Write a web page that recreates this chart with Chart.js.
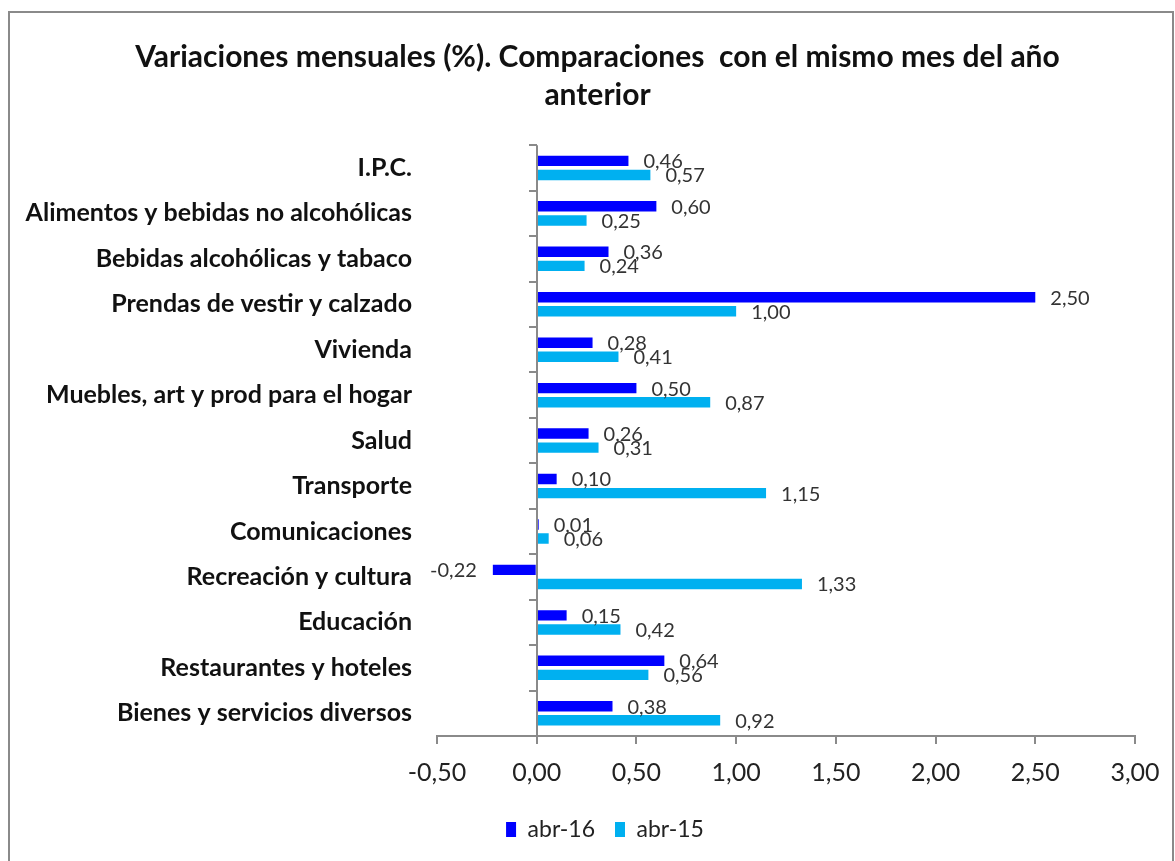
<!DOCTYPE html>
<html>
<head>
<meta charset="utf-8">
<script src="https://cdn.jsdelivr.net/npm/chart.js@4"></script>
<style>
  html, body { margin: 0; padding: 0; background: #fff; overflow: hidden; }
  #frame { position: absolute; left: 8px; top: 11px; width: 1162px; height: 900px; border: 2px solid #8a8a8a; }
  #wrap { position: absolute; left: 0; top: 0; width: 1175px; height: 861px; }
</style>
</head>
<body>
<div id="frame"></div>
<div id="wrap"><canvas id="chart"></canvas></div>
<script>
const categories = [
    'I.P.C.',
    'Alimentos y bebidas no alcohólicas',
    'Bebidas alcohólicas y tabaco',
    'Prendas de vestir y calzado',
    'Vivienda',
    'Muebles, art y prod para el hogar',
    'Salud',
    'Transporte',
    'Comunicaciones',
    'Recreación y cultura',
    'Educación',
    'Restaurantes y hoteles',
    'Bienes y servicios diversos'
]
const abr16 = [0.46, 0.60, 0.36, 2.50, 0.28, 0.50, 0.26, 0.10, 0.01, -0.22, 0.15, 0.64, 0.38]
const abr15 = [0.57, 0.25, 0.24, 1.00, 0.41, 0.87, 0.31, 1.15, 0.06, 1.33, 0.42, 0.56, 0.92]
const xTicks = [-0.5, 0, 0.5, 1, 1.5, 2, 2.5, 3]

const fmt = v => v.toFixed(2).replace('.', ',')
const FONT = 'Lato, "Open Sans", sans-serif'

// value labels next to each bar end
const valueLabels = {
    id: 'valueLabels',
    afterDatasetsDraw(chart) {
        const ctx = chart.ctx
        ctx.save()
        ctx.font = '20px ' + FONT
        ctx.fillStyle = '#333'
        ctx.textBaseline = 'middle'
        chart.data.datasets.forEach((ds, di) => {
            chart.getDatasetMeta(di).data.forEach((bar, i) => {
                const v = ds.data[i]
                if (v >= 0) {
                    ctx.textAlign = 'left'
                    ctx.fillText(fmt(v), bar.x + 15, bar.y + 1)
                } else {
                    ctx.textAlign = 'right'
                    ctx.fillText(fmt(v), bar.x - 16, bar.y + 1)
                }
            })
        })
        ctx.restore()
    }
}

// vertical axis crossing at zero, with category tick marks
const zeroAxis = {
    id: 'zeroAxis',
    afterDatasetsDraw(chart) {
        const {ctx, chartArea, scales} = chart
        const x0 = Math.round(scales.x.getPixelForValue(0))
        const n = categories.length
        const step = (chartArea.bottom - chartArea.top) / n
        ctx.save()
        ctx.strokeStyle = '#8a8a8a'
        ctx.lineWidth = 2
        ctx.beginPath()
        ctx.moveTo(x0, chartArea.top)
        ctx.lineTo(x0, chartArea.bottom)
        for (let i = 0; i < n; i++) {
            const y = Math.round(chartArea.top + i * step)
            ctx.moveTo(x0 - 8, y)
            ctx.lineTo(x0, y)
        }
        ctx.stroke()
        ctx.restore()
    }
}

// nudge title and legend a bit right, like the original
const blockShift = {
    id: 'blockShift',
    afterLayout(chart) {
        if (chart.legend) chart.legend.left += 55
        if (chart.titleBlock) chart.titleBlock.left += 40
    }
}

new Chart(document.getElementById('chart'), {
    type: 'bar',
    data: {
        labels: categories,
        datasets: [
            {
                label: 'abr-16',
                data: abr16,
                backgroundColor: '#0000FF',
                borderWidth: 0,
                barPercentage: 0.74,
                categoryPercentage: 0.62
            },
            {
                label: 'abr-15',
                data: abr15,
                backgroundColor: '#00B0F0',
                borderWidth: 0,
                barPercentage: 0.74,
                categoryPercentage: 0.62
            }
        ]
    },
    options: {
        indexAxis: 'y',
        responsive: true,
        maintainAspectRatio: false,
        animation: false,
        layout: {
            padding: {left: 20, right: 40, top: 0, bottom: 10}
        },
        plugins: {
            title: {
                display: true,
                text: ['Variaciones mensuales (%). Comparaciones  con el mismo mes del año', 'anterior'],
                color: '#111',
                font: {family: FONT, size: 30, weight: 'bold', lineHeight: 1.27},
                padding: {top: 38, bottom: 31}
            },
            legend: {
                position: 'bottom',
                labels: {
                    color: '#222',
                    font: {family: FONT, size: 23},
                    boxWidth: 10,
                    boxHeight: 15,
                    padding: 20
                }
            },
            tooltip: {enabled: false}
        },
        scales: {
            x: {
                min: -0.5,
                max: 3,
                afterBuildTicks: scale => { scale.ticks = xTicks.map(v => ({value: v})) },
                afterFit: scale => { scale.height = 62 },
                border: {display: true, color: '#8a8a8a', width: 2},
                grid: {display: true, drawOnChartArea: false, drawTicks: true, tickLength: 8, color: '#8a8a8a', lineWidth: 2},
                ticks: {
                    color: '#222',
                    font: {family: FONT, size: 25},
                    padding: 14,
                    maxRotation: 0,
                    callback: v => fmt(v)
                }
            },
            y: {
                afterFit: scale => { scale.width = 417 },
                border: {display: false},
                grid: {display: false, drawTicks: false},
                ticks: {
                    color: '#111',
                    font: {family: FONT, size: 25, weight: 'bold'},
                    padding: 25
                }
            }
        }
    },
    plugins: [valueLabels, zeroAxis, blockShift]
})
</script>
</body>
</html>
